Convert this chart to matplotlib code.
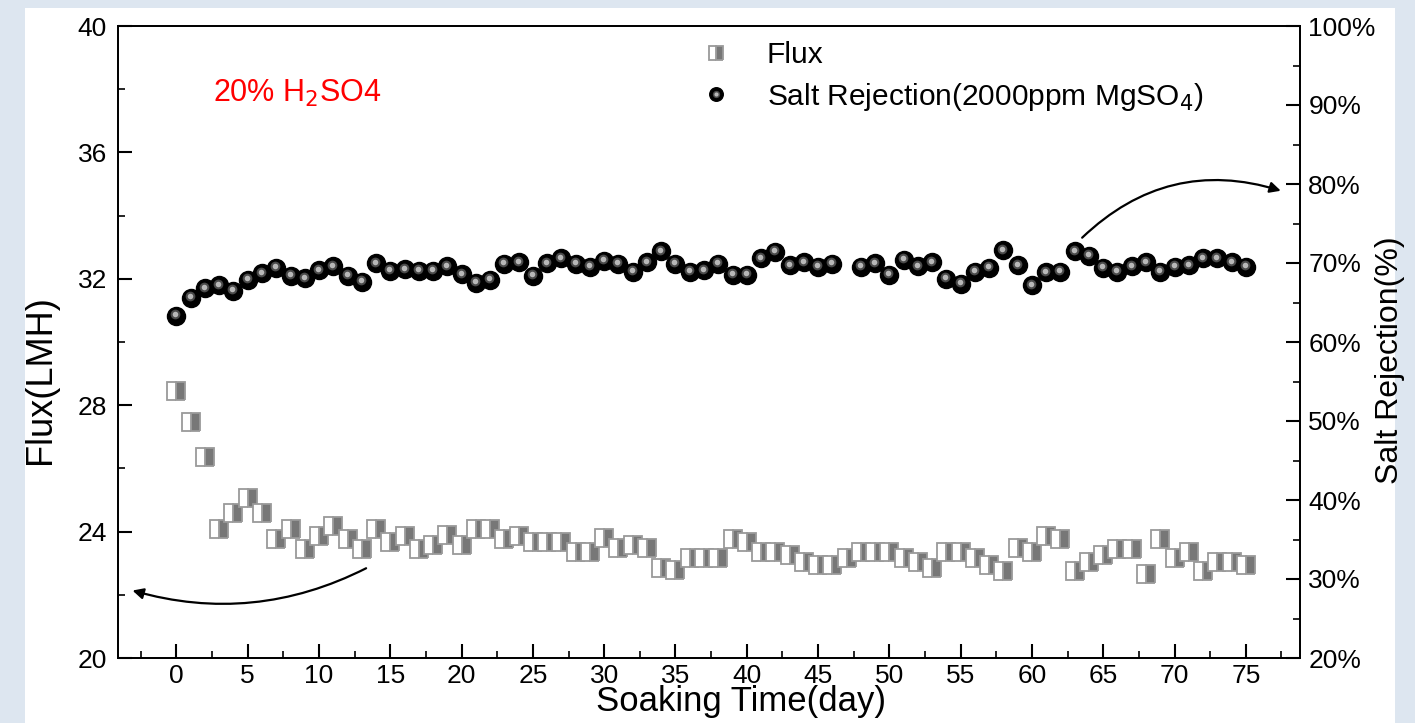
import numpy as np
import matplotlib
matplotlib.use('Agg')
import matplotlib.pyplot as plt
from matplotlib.patches import Rectangle
from matplotlib.legend_handler import HandlerTuple
from matplotlib.ticker import MultipleLocator, FuncFormatter
import matplotlib.transforms as mtrans

plt.rcParams['font.family'] = ['Liberation Sans', 'DejaVu Sans']

# 数据
days_flux = list(range(0, 76))
flux = [28.45, 27.47, 26.36, 24.08, 24.59, 25.06, 24.59, 23.77, 24.08, 23.45,
        23.86, 24.18, 23.77, 23.45, 24.08, 23.67, 23.86, 23.45, 23.58, 23.89,
        23.58, 24.08, 24.08, 23.77, 23.86, 23.67, 23.67, 23.67, 23.35, 23.35,
        23.80, 23.48, 23.58, 23.48, 22.85, 22.78, 23.16, 23.16, 23.16, 23.77,
        23.67, 23.35, 23.35, 23.26, 23.04, 22.94, 22.94, 23.16, 23.35, 23.35,
        23.35, 23.16, 23.04, 22.85, 23.35, 23.35, 23.16, 22.94, 22.75, 23.48,
        23.35, 23.86, 23.77, 22.75, 23.04, 23.26, 23.45, 23.45, 22.66, 23.77,
        23.16, 23.35, 22.75, 23.04, 23.04, 22.94]

days_rej = [d for d in range(0, 76) if d != 47]
rejection = [63.3, 65.6, 66.8, 67.2, 66.5, 67.9, 68.7, 69.4, 68.4, 68.1,
             69.1, 69.6, 68.4, 67.6, 70.0, 69.0, 69.2, 69.0, 69.0, 69.6,
             68.6, 67.5, 67.9, 69.9, 70.1, 68.4, 70.0, 70.6, 69.9, 69.5,
             70.3, 69.9, 68.9, 70.1, 71.5, 69.9, 68.9, 69.1, 69.9, 68.5,
             68.5, 70.6, 71.4, 69.7, 70.1, 69.5, 69.9,
             69.5, 70.0, 68.5, 70.4, 69.6, 70.1, 68.0, 67.4, 68.9, 69.4,
             71.6, 69.7, 67.2, 68.8, 68.9, 71.5, 70.9, 69.4, 68.9, 69.6,
             70.1, 68.9, 69.5, 69.7, 70.6, 70.6, 70.1, 69.5]

fig = plt.figure(figsize=(14.15, 7.23), dpi=100, facecolor='#dde6f0')
fig.patches.append(Rectangle((25/1415, 0), 1370/1415, 1 - 8/723, transform=fig.transFigure,
                             facecolor='white', edgecolor='none', zorder=-10))

ax = fig.add_axes([118/1415, 65/723, 1182/1415, 632/723])
ax2 = ax.twinx()

# Flux 方块，左白右灰
h1, = ax.plot(days_flux, flux, linestyle='none', marker='s', markersize=12.5,
              fillstyle='right', markerfacecolor='#777777', markerfacecoloralt='white',
              markeredgecolor='#9a9a9a', markeredgewidth=1.3, label='Flux')

# 截留率 黑球 + 高光
h2, = ax2.plot(days_rej, rejection, linestyle='none', marker='o', markersize=13,
               color='black')
off = mtrans.ScaledTranslation(-1/100, 1.5/100, fig.dpi_scale_trans)
h3, = ax2.plot(days_rej, rejection, linestyle='none', marker='o', markersize=7,
               color='#4a4a4a', markeredgewidth=0, transform=ax2.transData + off)
h4, = ax2.plot(days_rej, rejection, linestyle='none', marker='o', markersize=4,
               color='#b8b8b8', markeredgewidth=0, transform=ax2.transData + off)

ax.set_xlim(-4.1, 78.8)
ax.set_ylim(20, 40)
ax2.set_ylim(20, 100)

ax.xaxis.set_major_locator(MultipleLocator(5))
ax.xaxis.set_minor_locator(MultipleLocator(2.5))
ax.yaxis.set_major_locator(MultipleLocator(4))
ax.yaxis.set_minor_locator(MultipleLocator(2))
ax2.yaxis.set_major_locator(MultipleLocator(10))
ax2.yaxis.set_minor_locator(MultipleLocator(5))
ax2.yaxis.set_major_formatter(FuncFormatter(lambda v, p: '%d%%' % v))

for a in (ax, ax2):
    a.tick_params(which='major', direction='in', length=10, width=1.5, labelsize=19)
    a.tick_params(which='minor', direction='in', length=5, width=1.2)
    for s in a.spines.values():
        s.set_linewidth(1.3)
ax.tick_params(axis='x', pad=4)
ax.tick_params(axis='y', pad=8)
ax2.tick_params(axis='y', pad=6)

ax.set_xlabel('Soaking Time(day)', fontsize=25)
ax.xaxis.set_label_coords(0.527, -0.043)
ax.set_ylabel('Flux(LMH)', fontsize=26)
ax.yaxis.set_label_coords(-0.051, 0.44)
ax2.set_ylabel('Salt Rejection(%)', fontsize=23)
ax2.yaxis.set_label_coords(1.0635, 0.472)

ax.text(0.08, 0.894, '20% H$_2$SO4', transform=ax.transAxes, color='red', fontsize=22,
        va='center')

ax.legend([h1, (h2, h3, h4)], ['Flux', 'Salt Rejection(2000ppm MgSO$_4$)'],
          handler_map={tuple: HandlerTuple(ndivide=1)},
          loc='upper left', bbox_to_anchor=(0.468, 1.018), frameon=False,
          fontsize=21.5, markerscale=0.75, handlelength=1.2, handletextpad=1.1,
          labelspacing=0.38)

# 弯曲箭头
ax.annotate('', xy=(0.010, 0.108), xytext=(0.212, 0.144), xycoords='axes fraction',
            arrowprops=dict(arrowstyle='-|>', color='black', lw=1.6, mutation_scale=16,
                            connectionstyle='arc3,rad=-0.2'))
ax.annotate('', xy=(0.986, 0.738), xytext=(0.814, 0.662), xycoords='axes fraction',
            arrowprops=dict(arrowstyle='-|>', color='black', lw=1.6, mutation_scale=16,
                            connectionstyle='arc3,rad=-0.3'))

fig.savefig('out.png', dpi=100, facecolor=fig.get_facecolor())
